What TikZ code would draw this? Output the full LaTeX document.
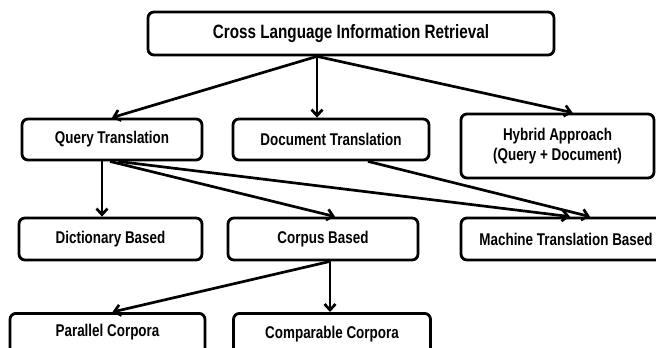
\documentclass[tikz,border=0pt]{standalone}
\usepackage{fontspec}
\setmainfont{Liberation Sans}[FakeStretch=0.79]
\usetikzlibrary{arrows.meta}
\begin{document}
\begin{tikzpicture}[x=1pt,y=-1pt,
  box/.style={draw=black, line width=2.8pt, rounded corners=6pt, fill=white,
    inner sep=0pt, align=center, font=\fontsize{17}{20}\selectfont\bfseries},
  conn/.style={line width=2.7pt, -{Straight Barb[length=6pt,width=11pt]}}]
\useasboundingbox (0,0) rectangle (656,348);
\node[box, minimum width=406pt, minimum height=43pt, font=\fontsize{19.3}{22}\selectfont\bfseries] (top) at (351,33.5) {Cross Language Information Retrieval};
\node[box, minimum width=180pt, minimum height=41pt] (query) at (112,139.5) {Query Translation};
\node[box, minimum width=196pt, minimum height=41pt] (doc) at (331,139.5) {Document Translation};
\node[box, minimum width=193pt, minimum height=64pt] (hyb) at (557.5,146) {Hybrid Approach\\(Query + Document)};
\node[box, minimum width=183pt, minimum height=42pt] (dict) at (110.5,239) {Dictionary Based};
\node[box, minimum width=190pt, minimum height=42pt] (corp) at (323,239) {Corpus Based};
\node[box, minimum width=210pt, minimum height=42pt] (mach) at (566,239) {Machine Translation Based};
\node[box, anchor=north, minimum width=195pt, inner ysep=11pt, text depth=30pt] (par) at (107.5,312) {Parallel Corpora};
\node[box, anchor=north, minimum width=197pt, inner ysep=13pt, text depth=30pt] (comp) at (332,312) {Comparable Corpora};
\draw[conn] ([xshift=-34pt]top.south) -- (query.north);
\draw[conn] ([xshift=-34pt]top.south) -- ([xshift=-14pt]doc.north);
\draw[conn] ([xshift=-34pt]top.south) -- ([xshift=15pt]hyb.north);
\draw[conn] ([xshift=-10pt]query.south) -- ([xshift=-10pt]query.south |- dict.north);
\draw[conn] ([xshift=-2pt]query.south) -- ([xshift=12pt]corp.north);
\draw[conn] ([xshift=6pt]query.south) -- ([xshift=4pt]mach.north);
\draw[conn] ([xshift=37pt]doc.south) -- ([xshift=24pt]mach.north);
\draw[conn] ([xshift=7pt]corp.south) -- ([xshift=5pt]par.north);
\draw[conn] ([xshift=7pt]corp.south) -- ([xshift=7pt]corp.south |- comp.north);
\end{tikzpicture}
\end{document}
